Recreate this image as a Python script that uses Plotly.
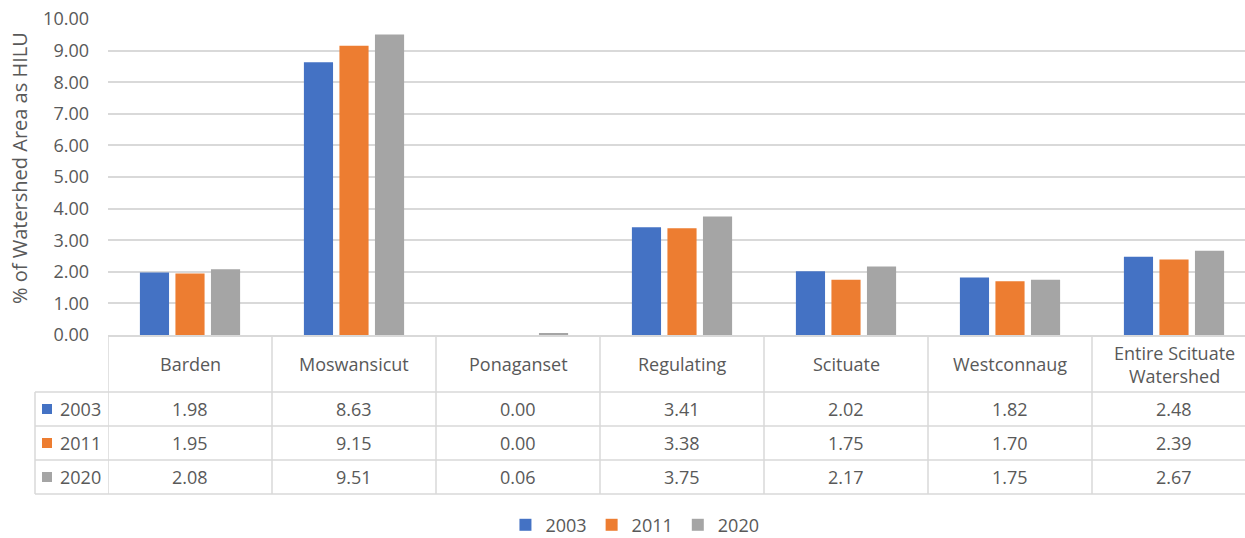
import plotly.graph_objects as go

categories = ["Barden", "Moswansicut", "Ponaganset", "Regulating", "Scituate",
              "Westconnaug", "Entire Scituate<br>Watershed"]
years = ["2003", "2011", "2020"]
vals_2003 = [1.98, 8.63, 0.00, 3.41, 2.02, 1.82, 2.48]
vals_2011 = [1.95, 9.15, 0.00, 3.38, 1.75, 1.70, 2.39]
vals_2020 = [2.08, 9.51, 0.06, 3.75, 2.17, 1.75, 2.67]
y_ticks = [0, 1, 2, 3, 4, 5, 6, 7, 8, 9, 10]

series = [vals_2003, vals_2011, vals_2020]
colors = ["#4472C4", "#ED7D31", "#A5A5A5"]
font_name = "Open Sans"
fsize = 18
text_col = "#595959"
grid_col = "#d9d9d9"

W, H = 1245, 538
left, top, bottom = 108, 19, 203
plot_h = H - top - bottom
plot_w = W - left
cat_w = 164  # px per category; the last column runs past the right edge


def py(pix):
    # pixel row -> paper y
    return (H - bottom - pix) / plot_h


def px_(pix):
    # pixel column -> paper x
    return (pix - left) / plot_w


fig = go.Figure()
for yr, vals, c in zip(years, series, colors):
    fig.add_trace(go.Bar(x=list(range(len(categories))), y=vals, name=yr,
                         marker=dict(color=c, line=dict(width=0))))

shapes = []
annotations = []
line = dict(color=grid_col, width=1.5)

# horizontal table lines
row_lines = [392, 426, 460, 494]
for r in row_lines:
    shapes.append(dict(type="line", xref="paper", yref="paper",
                       x0=px_(35), x1=1.02, y0=py(r), y1=py(r), line=line))
# vertical lines across the header and rows
for i in range(len(categories)):
    shapes.append(dict(type="line", xref="x", yref="paper",
                       x0=i - 0.5, x1=i - 0.5, y0=0, y1=py(494), line=line))
shapes.append(dict(type="line", xref="paper", yref="paper",
                   x0=px_(35), x1=px_(35), y0=py(392), y1=py(494), line=line))

# header labels
for i, cat in enumerate(categories):
    annotations.append(dict(x=i, y=py(364), xref="x", yref="paper", text=cat,
                            xanchor="center", yanchor="middle", showarrow=False,
                            font=dict(size=fsize, color=text_col)))

# row values and series keys
row_centers = [409, 443, 477]
for yr, vals, c, rc in zip(years, series, colors, row_centers):
    shapes.append(dict(type="rect", xref="paper", yref="paper",
                       x0=px_(42), x1=px_(52), y0=py(rc - 5), y1=py(rc + 5),
                       fillcolor=c, line=dict(width=0)))
    annotations.append(dict(x=px_(58), y=py(rc), xref="paper", yref="paper",
                            text=yr, xanchor="left", yanchor="middle",
                            showarrow=False, font=dict(size=fsize, color=text_col)))
    for i, v in enumerate(vals):
        annotations.append(dict(x=i, y=py(rc), xref="x", yref="paper",
                                text=f"{v:.2f}", xanchor="center", yanchor="middle",
                                showarrow=False, font=dict(size=fsize, color=text_col)))

# y axis title
annotations.append(dict(x=px_(19), y=py(168), xref="paper", yref="paper",
                        text="% of Watershed Area as HILU", textangle=-90,
                        xanchor="center", yanchor="middle", showarrow=False,
                        font=dict(size=20, color=text_col)))

fig.update_layout(
    width=W, height=H,
    margin=dict(l=left, r=0, t=top, b=bottom),
    paper_bgcolor="white", plot_bgcolor="white",
    font=dict(family=font_name, size=fsize, color=text_col),
    barmode="group", bargap=0.35, bargroupgap=0.18,
    shapes=shapes, annotations=annotations,
    legend=dict(orientation="h", xref="container", yref="container",
                x=0.51, y=0.024, xanchor="center", yanchor="middle",
                font=dict(size=fsize, color=text_col), itemwidth=30),
    xaxis=dict(range=[-0.5, -0.5 + plot_w / cat_w], showticklabels=False,
               showgrid=False, zeroline=False, showline=True,
               linecolor=grid_col, linewidth=1.5),
    yaxis=dict(range=[0, 10], tickvals=y_ticks, tickformat=".2f",
               showgrid=True, gridcolor=grid_col, gridwidth=1.5, zeroline=False,
               ticklabelstandoff=18, tickfont=dict(size=fsize, color=text_col)),
)

# drop the default body margin so the figure sits at the page corner
fig.write_html("out.html", config={"displayModeBar": False},
               post_script="document.body.style.margin='0';")
